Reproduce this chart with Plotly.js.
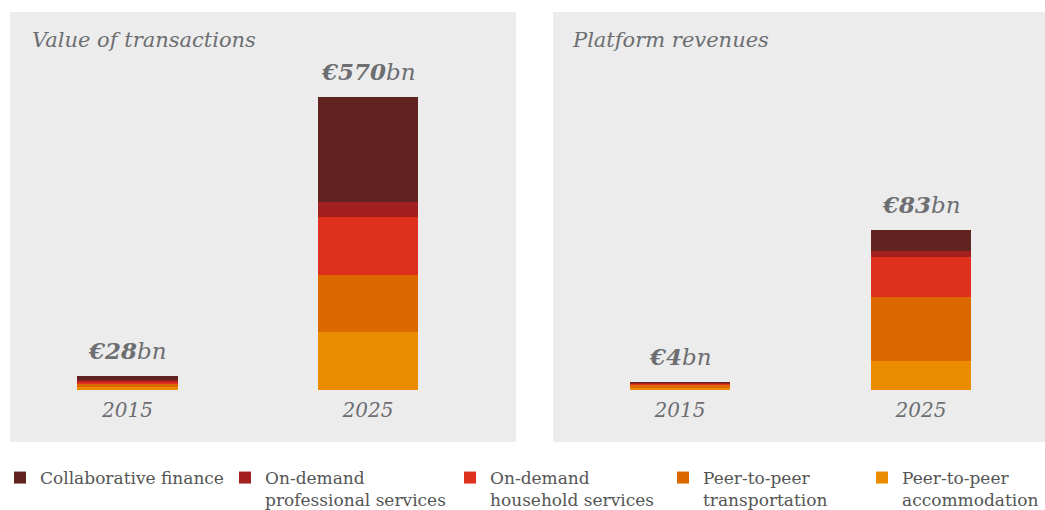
<!DOCTYPE html>
<html>
<head>
<meta charset="utf-8">
<script src="https://cdn.plot.ly/plotly-3.0.1.min.js"></script>
<style>html,body{margin:0;padding:0;background:#fff;}#chart{width:1045px;height:510px;}</style>
</head>
<body>
<div id="chart"></div>
<script>
// ---- data ----
const years = ['2015', '2025'];
const panelTitles = ['Value of transactions', 'Platform revenues'];
const seriesNames = ['Peer-to-peer<br>accommodation', 'Peer-to-peer<br>transportation', 'On-demand<br>household services', 'On-demand<br>professional services', 'Collaborative finance'];
const seriesColors = ['#eb8c00', '#dc6900', '#e0301e', '#a32020', '#602320'];
// transaction values (EUR bn), bottom-to-top order of seriesNames
const txAccommodation = [6, 113];
const txTransportation = [5, 111];
const txHousehold = [5, 113];
const txProfessional = [4, 29];
const txFinance = [8, 204];
const txTotals = [28, 570];
// platform revenues (EUR bn)
const revAccommodation = [1.0, 15];
const revTransportation = [1.5, 33];
const revHousehold = [0.8, 21];
const revProfessional = [0.3, 3];
const revFinance = [0.4, 11];
const revTotals = [4, 83];

const txSeries = [txAccommodation, txTransportation, txHousehold, txProfessional, txFinance];
const revSeries = [revAccommodation, revTransportation, revHousehold, revProfessional, revFinance];

const W = 1045, H = 510;
const px = v => v / W;
const py = v => 1 - v / H;
const serif = "'DejaVu Serif', 'Liberation Serif', serif";
const grey = '#6d6e71';

// legend slot for each series (bottom-to-top order), legend x positions in px
const legendIds = ['legend5', 'legend4', 'legend3', 'legend2', 'legend'];
const legendXpx = {legend: 0, legend2: 225, legend3: 450, legend4: 663, legend5: 862};

const traces = [];
seriesNames.forEach((name, i) => {
  traces.push({
    type: 'bar', x: years, y: txSeries[i], name: name, xaxis: 'x', yaxis: 'y',
    marker: {color: seriesColors[i]}, legendgroup: 'g' + i,
    legend: legendIds[i],
    hoverinfo: 'skip'
  });
  traces.push({
    type: 'bar', x: years, y: revSeries[i], name: name, xaxis: 'x2', yaxis: 'y2',
    marker: {color: seriesColors[i]}, legendgroup: 'g' + i, showlegend: false,
    hoverinfo: 'skip'
  });
});

const annotations = [];
years.forEach((yr, i) => {
  annotations.push({x: i, y: txTotals[i], xref: 'x', yref: 'y', yanchor: 'bottom', yshift: 10, showarrow: false,
    text: '<b>€' + txTotals[i] + '</b>bn', font: {family: serif, size: 23, color: grey, style: 'italic'}});
  annotations.push({x: i, y: revTotals[i], xref: 'x2', yref: 'y2', yanchor: 'bottom', yshift: 10, showarrow: false,
    text: '<b>€' + revTotals[i] + '</b>bn', font: {family: serif, size: 23, color: grey, style: 'italic'}});
});
annotations.push({x: px(30), y: py(40), xref: 'paper', yref: 'paper', xanchor: 'left', yanchor: 'middle', showarrow: false,
  text: panelTitles[0], font: {family: serif, size: 21, color: grey, style: 'italic'}});
annotations.push({x: px(570), y: py(40), xref: 'paper', yref: 'paper', xanchor: 'left', yanchor: 'middle', showarrow: false,
  text: panelTitles[1], font: {family: serif, size: 21, color: grey, style: 'italic'}});

const yBottom = py(390), yTop = py(60);
const axX = {type: 'category', range: [-0.5, 1.5], showgrid: false, zeroline: false, showline: false, ticks: '',
  tickfont: {family: serif, size: 20, color: grey, style: 'italic'}, ticklabelstandoff: 6, fixedrange: true};
const axY = {showgrid: false, zeroline: false, showline: false, showticklabels: false, ticks: '', domain: [yBottom, yTop], fixedrange: true};

const legendBase = {orientation: 'h', yanchor: 'top', xanchor: 'left', traceorder: 'normal', valign: 'top',
  bgcolor: 'rgba(0,0,0,0)', y: py(460),
  font: {family: serif, size: 17, color: '#555555'}, itemclick: false, itemdoubleclick: false};

const layout = {
  width: W, height: H,
  margin: {l: 0, r: 0, t: 0, b: 0, autoexpand: false},
  paper_bgcolor: '#ffffff', plot_bgcolor: 'rgba(0,0,0,0)',
  barmode: 'stack', bargap: 0.582,
  xaxis: Object.assign({}, axX, {domain: [px(7.25), px(488.25)], anchor: 'y'}),
  xaxis2: Object.assign({}, axX, {domain: [px(559.5), px(1041.5)], anchor: 'y2'}),
  yaxis: Object.assign({}, axY, {range: [0, 570 * 330 / 293], anchor: 'x'}),
  yaxis2: Object.assign({}, axY, {range: [0, 83 * 330 / 160], anchor: 'x2'}),
  shapes: [
    {type: 'rect', xref: 'paper', yref: 'paper', x0: px(10), x1: px(516), y0: py(442), y1: py(12), fillcolor: '#ececec', line: {width: 0}, layer: 'below'},
    {type: 'rect', xref: 'paper', yref: 'paper', x0: px(553), x1: 1, y0: py(442), y1: py(12), fillcolor: '#ececec', line: {width: 0}, layer: 'below'}
  ],
  annotations: annotations,
  showlegend: true
};
Object.keys(legendXpx).forEach(id => {
  layout[id] = Object.assign({}, legendBase, {x: px(legendXpx[id])});
});

Plotly.newPlot('chart', traces, layout, {displayModeBar: false, staticPlot: true});
</script>
</body>
</html>
